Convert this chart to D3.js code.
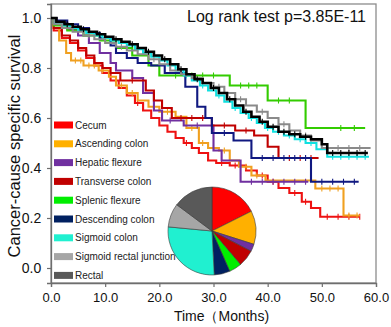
<!DOCTYPE html>
<html>
<head>
<meta charset="utf-8">
<script src="https://cdn.jsdelivr.net/npm/d3@7"></script>
<style>
  body { margin: 0; background: #fff; }
  text { font-family: "Liberation Sans", Arial, sans-serif; }
</style>
</head>
<body>
<div id="chart"></div>
<script>
// groups, in legend order
var groups = ["Cecum", "Ascending colon", "Hepatic flexure", "Transverse colon",
  "Splenic flexure", "Descending colon", "Sigmoid colon", "Sigmoid rectal junction", "Rectal"];
var groupColors = ["#ff0000", "#ffb000", "#7030a0", "#c00000", "#00ee00",
  "#002060", "#20f0d0", "#a6a6a6", "#595959"];
var curveColors = ["#ee1111", "#f0a020", "#7030a0", "#c00000", "#33cc00",
  "#101880", "#10e0e0", "#8a8a8a", "#000000"];

// share of patients per site (pie), percent
var pieShares = [17.6, 12.3, 2.7, 6.2, 4.6, 5.8, 27.3, 8.7, 14.8];

// Kaplan-Meier steps: event times, survival after each time, last follow-up
var cecumT = [0, 0.5, 2, 3.5, 5, 6.5, 8, 9.5, 11, 12.5, 14, 15.5, 17, 18.5, 20, 21.5, 23, 24.5, 26, 27.3, 29, 30.5, 33, 36, 38, 40, 42, 44, 46.3, 48, 49.7];
var cecumS = [1, 0.95, 0.92, 0.90, 0.87, 0.84, 0.81, 0.78, 0.75, 0.72, 0.69, 0.66, 0.63, 0.60, 0.57, 0.545, 0.52, 0.50, 0.48, 0.46, 0.43, 0.42, 0.41, 0.39, 0.37, 0.345, 0.32, 0.30, 0.265, 0.24, 0.205];
var cecumEnd = 57;
var cecumCens = [16, 25, 31.5, 34, 39, 41, 45, 47, 51, 53, 55, 57];

var ascT = [0, 0.5, 1.5, 2.8, 3.7, 6, 8.8, 10.7, 12, 14, 16, 18, 20, 23, 25, 27.3, 29, 31, 33, 34.7, 37, 39.6, 48.8, 54];
var ascS = [1, 0.96, 0.91, 0.86, 0.83, 0.81, 0.79, 0.765, 0.73, 0.70, 0.67, 0.645, 0.625, 0.605, 0.56, 0.50, 0.48, 0.47, 0.43, 0.405, 0.37, 0.35, 0.318, 0.21];
var ascEnd = 57;
var ascCens = [4.5, 5.5, 7, 8, 9.5, 13, 15, 19, 21.5, 26, 28, 30, 32, 36, 38, 50, 51.5, 53, 55, 56.5];

var hepT = [0, 1, 3, 5, 7, 9, 11, 12, 15, 17, 19, 20.5, 24.5, 30, 31.5, 35];
var hepS = [1, 0.98, 0.955, 0.93, 0.90, 0.86, 0.82, 0.79, 0.76, 0.70, 0.63, 0.59, 0.57, 0.47, 0.43, 0.345];
var hepEnd = 47.5;
var hepCens = [22, 27, 37, 39, 41, 43, 45, 47];

var transT = [0, 0.5, 2, 3.5, 5, 6.5, 8, 9.5, 11, 12.8, 17.5, 19, 20.5, 22.3, 29.7, 34, 37.5, 40, 42];
var transS = [1, 0.96, 0.93, 0.91, 0.88, 0.85, 0.82, 0.80, 0.78, 0.75, 0.71, 0.67, 0.64, 0.60, 0.57, 0.55, 0.53, 0.485, 0.44];
var transEnd = 49.4;
var transCens = [15, 24, 26, 28, 32, 36, 44, 46, 48];

var splT = [0, 0.5, 3, 6, 9, 12, 15, 18, 20, 33, 40, 47];
var splS = [1, 0.97, 0.95, 0.93, 0.91, 0.88, 0.85, 0.81, 0.77, 0.73, 0.67, 0.56];
var splEnd = 58;
var splCens = [23, 26, 28, 30, 35, 36.5, 38, 42, 44, 53.5, 56];

var descT = [0, 1, 3, 5, 7, 9, 11, 12, 14, 16, 18.5, 21, 24.8, 27, 28.5, 29.7, 33.7, 37, 48];
var descS = [1, 0.99, 0.975, 0.96, 0.94, 0.92, 0.89, 0.86, 0.84, 0.82, 0.81, 0.78, 0.725, 0.645, 0.60, 0.54, 0.51, 0.44, 0.345];
var descEnd = 56.8;
var descCens = [32, 39, 41, 43, 45, 47, 50, 52, 54, 56];

var sigT = [0, 0.5, 2, 3.5, 5, 6.5, 8, 9.5, 11, 12.5, 14, 15.5, 17, 18.5, 20, 21.5, 23, 24.5, 26, 27.5, 29, 30.5, 32, 33.5, 35, 36.5, 38, 39.5, 41, 43, 45, 47, 49, 51];
var sigS = [1, 0.98, 0.97, 0.96, 0.95, 0.94, 0.93, 0.92, 0.91, 0.90, 0.89, 0.875, 0.86, 0.845, 0.83, 0.81, 0.79, 0.77, 0.75, 0.73, 0.71, 0.69, 0.665, 0.64, 0.62, 0.60, 0.58, 0.56, 0.545, 0.53, 0.515, 0.50, 0.475, 0.445];
var sigEnd = 58.7;
var sigCens = [4, 10, 16, 22, 25, 28, 31, 34, 37, 40, 42, 44, 46, 48, 52, 53.5, 55, 56.5, 58];

var srjT = [0, 0.5, 2, 4, 6, 8, 10, 12, 14, 16, 18, 20, 22, 24, 26, 28, 30, 32, 34, 36, 38, 40, 42, 44, 46, 48, 50];
var srjS = [1, 0.975, 0.96, 0.945, 0.93, 0.915, 0.90, 0.885, 0.87, 0.855, 0.835, 0.815, 0.79, 0.775, 0.76, 0.74, 0.725, 0.70, 0.675, 0.65, 0.625, 0.60, 0.575, 0.55, 0.53, 0.51, 0.48];
var srjEnd = 59;
var srjCens = [7, 13, 19, 25, 31, 35, 39, 43, 47, 51, 53, 55, 57];

var recT = [0, 1, 2.5, 4, 5.5, 7, 8.5, 10, 11.5, 13, 14.5, 16, 17.5, 19, 20.5, 22, 23.5, 25, 26.5, 28, 29.5, 31, 32.5, 34, 35.5, 37, 38.5, 40, 42, 44, 46, 48, 50, 51];
var recS = [1, 0.985, 0.975, 0.965, 0.955, 0.945, 0.935, 0.925, 0.915, 0.905, 0.895, 0.88, 0.865, 0.85, 0.835, 0.815, 0.795, 0.775, 0.755, 0.74, 0.72, 0.70, 0.675, 0.65, 0.625, 0.605, 0.585, 0.565, 0.545, 0.535, 0.525, 0.515, 0.495, 0.46];
var recEnd = 58.5;
var recCens = [3, 6, 9, 12, 15, 18, 21, 24, 27, 30, 33, 36, 39, 41, 43, 45, 47, 52, 53.5, 55, 56.5, 58];

var xTicks = [0, 10, 20, 30, 40, 50, 60];
var yTicks = [0, 0.2, 0.4, 0.6, 0.8, 1.0];

var series = [
  [cecumT, cecumS, cecumEnd, cecumCens],
  [ascT, ascS, ascEnd, ascCens],
  [hepT, hepS, hepEnd, hepCens],
  [transT, transS, transEnd, transCens],
  [splT, splS, splEnd, splCens],
  [descT, descS, descEnd, descCens],
  [sigT, sigS, sigEnd, sigCens],
  [srjT, srjS, srjEnd, srjCens],
  [recT, recS, recEnd, recCens]
];

var W = 391, H = 327;
var margin = {top: 4, left: 51, right: 15, bottom: 44};
var width = W - margin.left - margin.right,
    height = H - margin.top - margin.bottom;

var svg = d3.select("#chart").append("svg")
  .attr("width", W).attr("height", H);
var g = svg.append("g")
  .attr("transform", "translate(" + margin.left + "," + margin.top + ")");

var x = d3.scaleLinear().domain([0, 60]).range([0, width]);
var y = d3.scaleLinear().domain([-0.06, 1.056]).range([height, 0]);

// frame
g.append("rect")
  .attr("width", width).attr("height", height)
  .attr("fill", "none").attr("stroke", "#8c8c8c").attr("stroke-width", 1.3);

// axes
var xAxis = g.append("g").attr("transform", "translate(0," + height + ")")
  .call(d3.axisBottom(x).tickValues(xTicks).tickFormat(d3.format(".1f")).tickSizeOuter(0).tickSize(4));
var yAxis = g.append("g")
  .call(d3.axisLeft(y).tickValues(yTicks).tickFormat(d3.format(".1f")).tickSizeOuter(0).tickSize(4));
[xAxis, yAxis].forEach(function(a) {
  a.select(".domain").attr("stroke", "#6e6e6e").attr("stroke-width", 1.3);
  a.selectAll(".tick line").attr("stroke", "#6e6e6e").attr("stroke-width", 1.2);
  a.selectAll("text").attr("fill", "#111").style("font-family", "Liberation Sans, Arial, sans-serif");
});
xAxis.selectAll("text").attr("font-size", 13).attr("dy", "0.95em");
yAxis.selectAll("text").attr("font-size", 14).attr("dx", "-0.2em");

// step curves
var line = d3.line()
  .x(function(d) { return x(d[0]); })
  .y(function(d) { return y(d[1]); })
  .curve(d3.curveStepAfter);

function survAt(ts, ss, t) {
  var s = ss[0];
  for (var i = 0; i < ts.length; i++) { if (ts[i] <= t) s = ss[i]; }
  return s;
}

series.forEach(function(sr, i) {
  var ts = sr[0], ss = sr[1], end = sr[2], cens = sr[3];
  var pts = ts.map(function(t, j) { return [t, ss[j]]; });
  pts.push([end, ss[ss.length - 1]]);
  var col = curveColors[i];
  var sw = i === 8 ? 2.6 : 2.1;
  g.append("path").datum(pts)
    .attr("d", line)
    .attr("fill", "none")
    .attr("stroke", col)
    .attr("stroke-width", sw);
  g.selectAll(".cens" + i).data(cens).enter().append("line")
    .attr("class", "cens" + i)
    .attr("x1", function(t) { return x(t); })
    .attr("x2", function(t) { return x(t); })
    .attr("y1", function(t) { return y(survAt(ts, ss, t)) - 3; })
    .attr("y2", function(t) { return y(survAt(ts, ss, t)) + 3; })
    .attr("stroke", col)
    .attr("stroke-width", 1.1);
});

// legend
var legend = svg.append("g").attr("transform", "translate(54,125)");
var items = legend.selectAll("g").data(groups).enter().append("g")
  .attr("transform", function(d, i) { return "translate(0," + (i * 18.8) + ")"; });
items.append("rect")
  .attr("x", 0).attr("y", -3.5).attr("width", 19).attr("height", 7)
  .attr("fill", function(d, i) { return groupColors[i]; });
items.append("text")
  .attr("x", 21).attr("y", 0).attr("dy", "0.35em")
  .attr("font-size", 10).attr("fill", "#222")
  .text(function(d) { return d; });

// pie of site distribution
var pie = d3.pie().sort(null)(pieShares);
var arc = d3.arc().innerRadius(0).outerRadius(44);
svg.append("g").attr("transform", "translate(212,231)")
  .selectAll("path").data(pie).enter().append("path")
  .attr("d", arc)
  .attr("fill", function(d, i) { return groupColors[i]; })
  .attr("stroke", "#3a3a3a").attr("stroke-width", 0.6);

// annotations
svg.append("text")
  .attr("x", 366).attr("y", 22).attr("text-anchor", "end")
  .attr("font-size", 16).attr("fill", "#111")
  .text("Log rank test p=3.85E-11");

svg.append("text")
  .attr("x", margin.left + width / 2 + 8).attr("y", 321)
  .attr("text-anchor", "middle").attr("font-size", 14).attr("fill", "#111")
  .text("Time（Months)");

svg.append("text")
  .attr("transform", "translate(20,146) rotate(-90)")
  .attr("text-anchor", "middle").attr("font-size", 16.5).attr("fill", "#111")
  .text("Cancer-cause specific survival");
</script>
</body>
</html>
